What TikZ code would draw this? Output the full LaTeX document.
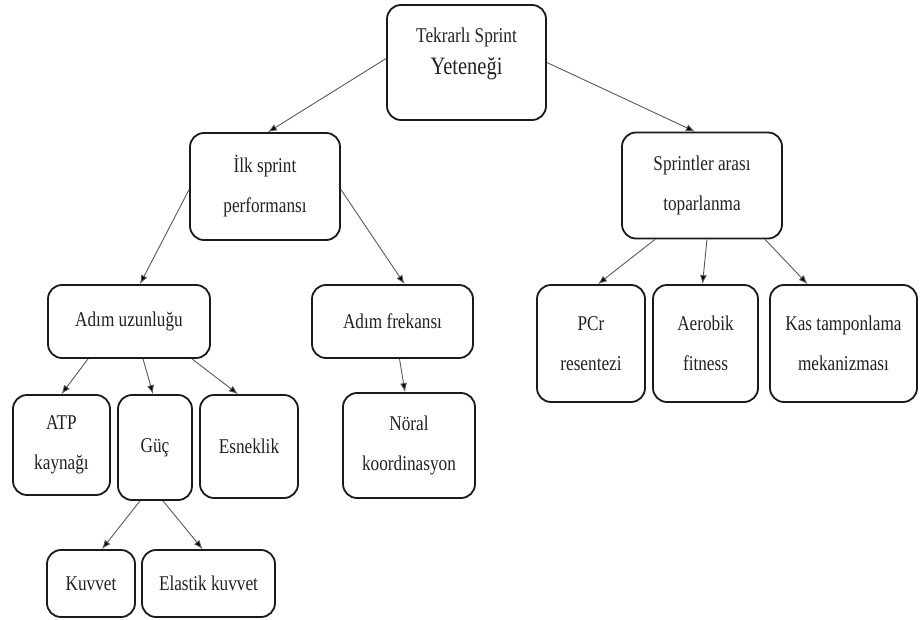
\documentclass[tikz,border=0pt]{standalone}
\usepackage{fontspec}
\setmainfont[FakeStretch=0.82]{Liberation Serif}
\usetikzlibrary{arrows.meta}
\definecolor{boxline}{HTML}{1A1A1A}
\definecolor{arrline}{HTML}{5A5A5A}
\definecolor{txt}{HTML}{222222}
\tikzset{
  box/.style={draw=boxline, line width=1.8pt, rounded corners=14pt, align=center,
    text=txt, inner sep=0pt, font=\fontsize{21}{40}\selectfont},
  arr/.style={draw=arrline, line width=0.9pt, -{Latex[length=9pt,width=7pt,fill=black]}}
}
\begin{document}
\begin{tikzpicture}[x=1pt,y=-1pt]
\useasboundingbox[fill=white] (0,0) rectangle (920,620);
% nodes
\node[box, minimum width=159pt, minimum height=115pt] (top) at (466.5,62.5)
  {\raisebox{7pt}[0pt][0pt]{\begin{tabular}{@{}c@{}}Tekrarlı Sprint\\[-8pt]{\fontsize{25}{25}\selectfont Yeteneği}\end{tabular}}};
\node[box, minimum width=150pt, minimum height=107pt] (ilk) at (265,186.5) {İlk sprint\\performansı};
\node[box, minimum width=160pt, minimum height=106pt] (spr) at (702,185.5) {Sprintler arası\\toparlanma};
\node[box, minimum width=162pt, minimum height=73pt] (au) at (129,321.5) {Adım uzunluğu};
\node[box, minimum width=161pt, minimum height=73pt] (af) at (392.5,321.5) {Adım frekansı};
\node[box, minimum width=97pt, minimum height=100pt] (atp) at (61.5,445) {ATP\\kaynağı};
\node[box, minimum width=74pt, minimum height=105pt] (guc) at (155,447.5) {Güç};
\node[box, minimum width=98pt, minimum height=103pt] (esn) at (249,446.5) {Esneklik};
\node[box, minimum width=88pt, minimum height=67pt] (kuv) at (91,583.5) {Kuvvet};
\node[box, minimum width=133pt, minimum height=67pt] (ela) at (208.5,583.5) {Elastik kuvvet};
\node[box, minimum width=132pt, minimum height=105pt] (nor) at (409,445.5) {Nöral\\koordinasyon};
\node[box, minimum width=108pt, minimum height=117pt] (pcr) at (591,343.5) {PCr\\resentezi};
\node[box, minimum width=105pt, minimum height=117pt] (aer) at (705.5,343.5) {Aerobik\\fitness};
\node[box, minimum width=147pt, minimum height=117pt] (kas) at (843.5,343.5) {Kas tamponlama\\mekanizması};
% connectors
\draw[arr] ([yshift=4pt]top.west) -- ([xshift=3pt]ilk.north);
\draw[arr] (top.east) -- ([xshift=-7pt]spr.north);
\draw[arr] ([yshift=-3pt]ilk.west) -- ([xshift=11pt]au.north);
\draw[arr] ([yshift=-3pt]ilk.east) -- ([xshift=12pt]af.north);
\draw[arr] ([xshift=-41pt]au.south) -- (atp.north);
\draw[arr] ([xshift=14pt]au.south) -- ([xshift=-2pt]guc.north);
\draw[arr] ([xshift=63pt]au.south) -- ([xshift=-11pt]esn.north);
\draw[arr] ([xshift=-15pt]guc.south) -- ([xshift=11pt]kuv.north);
\draw[arr] ([xshift=8pt]guc.south) -- ([xshift=-6pt]ela.north);
\draw[arr] ([xshift=7pt]af.south) -- ([xshift=-4pt]nor.north);
\draw[arr] ([xshift=-47pt]spr.south) -- ([xshift=7pt]pcr.north);
\draw[arr] ([xshift=5pt]spr.south) -- ([xshift=-3pt]aer.north);
\draw[arr] ([xshift=63pt]spr.south) -- ([xshift=-36pt]kas.north);
\end{tikzpicture}
\end{document}
